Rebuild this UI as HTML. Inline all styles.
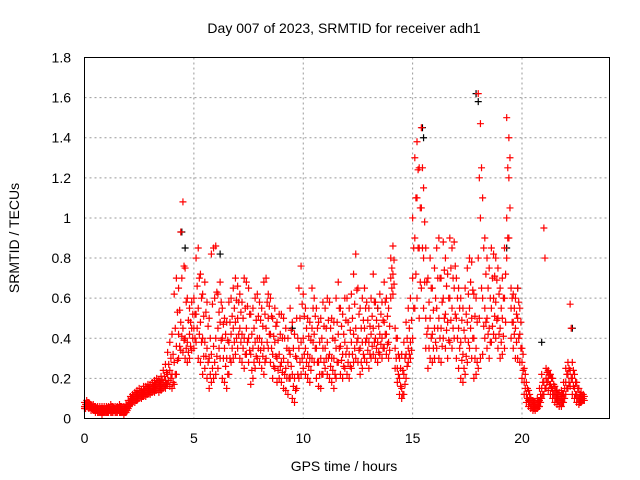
<!DOCTYPE html>
<html><head><meta charset="utf-8"><style>
body{margin:0;background:#fff;}
svg{display:block;font-family:"Liberation Sans",sans-serif;}
</style></head><body>
<svg id="chart" width="640" height="480">
<text x="344" y="33" font-size="14" text-anchor="middle">Day 007 of 2023, SRMTID for receiver adh1</text>
<text x="344" y="471" font-size="14" text-anchor="middle">GPS time / hours</text>
<text transform="translate(19,238) rotate(-90)" font-size="14" text-anchor="middle">SRMTID / TECUs</text>
<g id="grid"></g><g id="ticks"></g><g id="marks"></g>
<rect x="84.5" y="57.5" width="525" height="361" fill="none" stroke="#000" stroke-width="1"/>
</svg>
<script>
const xTicks=[0,5,10,15,20];
const yTicks=[0,0.2,0.4,0.6,0.8,1,1.2,1.4,1.6,1.8];
const yTickLabels=["0","0.2","0.4","0.6","0.8","1","1.2","1.4","1.6","1.8"];
const timeStep=0.1;
const valuesLow=[
.05,.06,.05,.04,.04,.03,.03,.03,.02,.03,
.03,.03,.03,.03,.03,.03,.03,.03,.02,.03,
.05,.07,.08,.08,.09,.10,.10,.11,.11,.12,
.12,.13,.13,.14,.13,.14,.15,.15,.17,.16,
.15,.17,.22,.30,.34,.33,.30,.28,.30,.34,
.35,.38,.30,.28,.22,.25,.20,.15,.18,.20,
.22,.25,.30,.20,.18,.15,.22,.28,.30,.32,
.35,.30,.28,.25,.32,.28,.17,.20,.25,.30,
.28,.25,.22,.30,.35,.28,.20,.25,.18,.20,
.18,.15,.14,.12,.20,.10,.08,.15,.20,.22,
.25,.22,.20,.18,.30,.28,.20,.16,.15,.22,
.25,.22,.20,.18,.15,.20,.28,.22,.20,.25,
.22,.20,.25,.28,.30,.28,.22,.25,.30,.28,
.25,.30,.32,.30,.28,.32,.30,.35,.32,.30,
.60,.62,.25,.18,.12,.10,.12,.20,.28,.30,
.40,.55,.60,.50,.65,.55,.35,.25,.30,.28,
.30,.35,.30,.28,.40,.35,.30,.38,.35,.40,
.30,.25,.20,.18,.22,.28,.35,.30,.20,.22,
.25,.30,.32,.40,.35,.30,.38,.42,.40,.35,
.30,.32,.35,.80,.90,.40,.35,.30,.30,.28,
.20,.12,.08,.06,.05,.04,.04,.05,.06,.10,
.12,.15,.14,.12,.10,.08,.07,.06,.06,.08,
.12,.15,.16,.12,.10,.08,.07,.08,.09];
const valuesLowerMid=[
.05,.06,.06,.05,.04,.04,.03,.03,.03,.03,
.03,.04,.03,.04,.03,.04,.03,.03,.03,.04,
.06,.08,.09,.09,.10,.11,.11,.12,.12,.13,
.13,.14,.14,.15,.15,.15,.16,.17,.19,.20,
.18,.22,.29,.36,.41,.39,.35,.33,.36,.40,
.40,.45,.42,.38,.31,.31,.28,.22,.25,.28,
.31,.35,.39,.30,.26,.22,.30,.35,.38,.40,
.42,.38,.35,.32,.38,.34,.24,.28,.31,.35,
.34,.31,.28,.38,.42,.35,.26,.31,.24,.26,
.23,.22,.20,.20,.26,.16,.14,.22,.28,.30,
.32,.28,.26,.24,.38,.35,.28,.22,.22,.28,
.30,.30,.26,.24,.22,.28,.35,.29,.26,.32,
.28,.26,.32,.35,.38,.34,.28,.32,.38,.34,
.32,.36,.38,.35,.33,.37,.35,.42,.37,.34,
.65,.67,.30,.22,.16,.12,.17,.26,.32,.34,
.55,.72,.85,.68,.85,.68,.42,.35,.40,.35,
.38,.45,.40,.36,.50,.44,.39,.49,.45,.52,
.40,.35,.29,.25,.31,.38,.45,.40,.30,.28,
.50,.65,.46,.48,.42,.38,.46,.51,.49,.42,
.38,.41,.48,.90,1.05,.48,.42,.38,.40,.35,
.24,.15,.10,.08,.06,.05,.05,.06,.08,.12,
.15,.18,.17,.15,.12,.10,.09,.08,.08,.10,
.15,.18,.20,.16,.12,.10,.08,.09,.09];
const valuesMid=[
.06,.07,.07,.06,.05,.05,.04,.04,.04,.04,
.04,.05,.04,.05,.04,.05,.04,.04,.04,.05,
.07,.09,.10,.10,.11,.12,.12,.13,.13,.14,
.14,.15,.16,.17,.16,.17,.18,.19,.22,.24,
.22,.28,.36,.42,.48,.45,.40,.38,.42,.45,
.45,.52,.55,.48,.40,.38,.35,.30,.32,.36,
.40,.45,.48,.40,.35,.30,.38,.42,.45,.48,
.50,.45,.42,.40,.45,.40,.32,.35,.38,.40,
.40,.38,.35,.45,.50,.42,.32,.38,.30,.32,
.28,.30,.25,.28,.32,.22,.20,.30,.35,.38,
.40,.35,.32,.30,.45,.42,.35,.28,.30,.35,
.35,.38,.32,.30,.30,.35,.42,.36,.32,.38,
.35,.32,.38,.42,.45,.40,.35,.38,.45,.40,
.38,.42,.45,.40,.38,.42,.40,.48,.42,.38,
.70,.72,.35,.25,.20,.15,.22,.32,.35,.38,
.70,.90,1.10,.85,1.05,.80,.50,.45,.50,.42,
.45,.55,.50,.45,.60,.52,.48,.60,.55,.65,
.50,.45,.38,.32,.40,.48,.55,.50,.40,.35,
.80,1.00,.60,.55,.50,.45,.55,.60,.58,.50,
.45,.50,.60,1.00,1.20,.55,.48,.45,.50,.42,
.28,.18,.12,.09,.07,.06,.06,.07,.09,.15,
.18,.20,.20,.17,.14,.12,.10,.09,.10,.12,
.18,.22,.24,.20,.15,.12,.10,.10,.10];
const valuesUpperMid=[
.07,.08,.07,.06,.06,.05,.05,.05,.05,.05,
.05,.05,.06,.05,.05,.05,.06,.05,.05,.06,
.08,.10,.11,.12,.12,.13,.13,.14,.15,.15,
.15,.16,.17,.18,.18,.19,.21,.23,.27,.30,
.32,.45,.53,.54,.70,.76,.58,.49,.48,.52,
.52,.66,.70,.60,.51,.53,.46,.40,.57,.60,
.63,.53,.58,.47,.42,.39,.48,.51,.55,.59,
.58,.53,.50,.55,.56,.52,.42,.45,.49,.51,
.49,.46,.52,.58,.56,.51,.41,.46,.39,.42,
.40,.40,.35,.34,.44,.35,.31,.40,.50,.57,
.51,.45,.41,.39,.55,.51,.45,.38,.40,.46,
.45,.49,.45,.40,.39,.48,.55,.46,.42,.49,
.48,.44,.50,.57,.64,.52,.45,.49,.55,.49,
.46,.51,.58,.49,.46,.52,.49,.58,.51,.46,
.75,.79,.40,.32,.25,.24,.30,.40,.45,.49,
.85,1.10,1.24,1.05,1.25,.98,.68,.58,.65,.54,
.60,.70,.70,.58,.74,.66,.60,.75,.70,.76,
.60,.55,.49,.44,.52,.62,.68,.64,.51,.48,
1.20,1.25,.85,.72,.65,.60,.70,.71,.69,.62,
.55,.60,.72,1.25,1.30,.60,.55,.52,.58,.48,
.32,.22,.15,.12,.09,.08,.07,.09,.12,.18,
.80,.23,.22,.20,.17,.14,.12,.11,.12,.15,
.22,.25,.45,.24,.18,.15,.12,.11,.11];
const valuesHigh=[
.08,.09,.08,.07,.07,.06,.06,.06,.06,.06,
.06,.06,.07,.06,.06,.06,.07,.06,.06,.07,
.09,.11,.12,.13,.14,.15,.14,.16,.16,.17,
.17,.18,.19,.20,.19,.21,.24,.27,.33,.38,
.42,.62,.70,.65,.93,1.08,.75,.60,.55,.58,
.60,.80,.85,.72,.62,.68,.58,.50,.82,.85,
.86,.62,.68,.55,.50,.48,.58,.60,.65,.70,
.66,.62,.58,.70,.68,.65,.52,.55,.60,.62,
.58,.55,.68,.70,.62,.60,.50,.55,.48,.52,
.52,.50,.45,.40,.55,.48,.42,.50,.65,.76,
.62,.55,.50,.48,.65,.60,.55,.48,.50,.58,
.55,.60,.58,.50,.48,.60,.68,.55,.52,.60,
.60,.55,.62,.72,.82,.65,.55,.60,.65,.58,
.55,.60,.72,.58,.55,.62,.58,.68,.60,.55,
.80,.86,.45,.40,.30,.32,.38,.48,.55,.60,
1.00,1.30,1.38,1.25,1.45,1.15,.85,.70,.80,.65,
.75,.85,.90,.70,.88,.80,.72,.90,.85,.88,
.70,.65,.60,.55,.65,.75,.80,.78,.62,.60,
1.62,1.47,1.10,.90,.80,.75,.85,.82,.80,.75,
.65,.70,.85,1.50,1.40,.65,.62,.60,.65,.55,
.35,.25,.18,.14,.10,.09,.08,.10,.15,.22,
.95,.25,.24,.22,.20,.16,.14,.13,.14,.18,
.25,.28,.57,.28,.22,.18,.15,.13,.12];
const blackTimes=[4.45,4.6,9.5,15.45,15.5,17.9,18.0,19.3,19.8,20.9,22.3,13.4,6.2];
const blackValues=[0.93,0.85,0.45,1.45,1.40,1.62,1.58,0.85,0.65,0.38,0.45,0.55,0.82];
const X=t=>84.5+t*(525/24);
const Y=v=>418.5-v*(361/1.8);
const NS="http://www.w3.org/2000/svg";
const grid=document.getElementById('grid'),ticks=document.getElementById('ticks'),marks=document.getElementById('marks');
function mk(tag,attrs,parent){const e=document.createElementNS(NS,tag);for(const k in attrs)e.setAttribute(k,attrs[k]);parent.appendChild(e);return e;}
xTicks.forEach(t=>{
 const g=mk('line',{x1:X(t),x2:X(t),y1:57.5,y2:418.5,stroke:'#999','stroke-dasharray':'2,3'},grid);
 
 
 const tx=mk('text',{x:X(t),y:443,'font-size':14,'text-anchor':'middle'},ticks);tx.textContent=t;
 
 
});
yTicks.forEach((v,i)=>{
 const g=mk('line',{x1:84.5,x2:609.5,y1:Y(v),y2:Y(v),stroke:'#999','stroke-dasharray':'2,3'},grid);
 
 
 const tx=mk('text',{x:71,y:Y(v)+5,'font-size':14,'text-anchor':'end'},ticks);tx.textContent=yTickLabels[i];
 
 
});
function plus(t,v,color,name){
 const x=X(t),y=Y(v);
 const p=mk('path',{d:`M${x-3.5},${y}h7M${x},${y-3.5}v7`,stroke:color,'stroke-width':1.2,fill:'none'},marks);
 
 
}
blackTimes.forEach((t,i)=>plus(t,blackValues[i],'#000','black-point'));
[valuesLow,valuesMid,valuesHigh].forEach(arr=>arr.forEach((v,i)=>plus(i*timeStep,v,'#f00','red-point')));
[valuesLowerMid,valuesUpperMid].forEach(arr=>arr.forEach((v,i)=>plus(i*timeStep+timeStep/2,v,'#f00','red-point')));
</script>
</body></html>
